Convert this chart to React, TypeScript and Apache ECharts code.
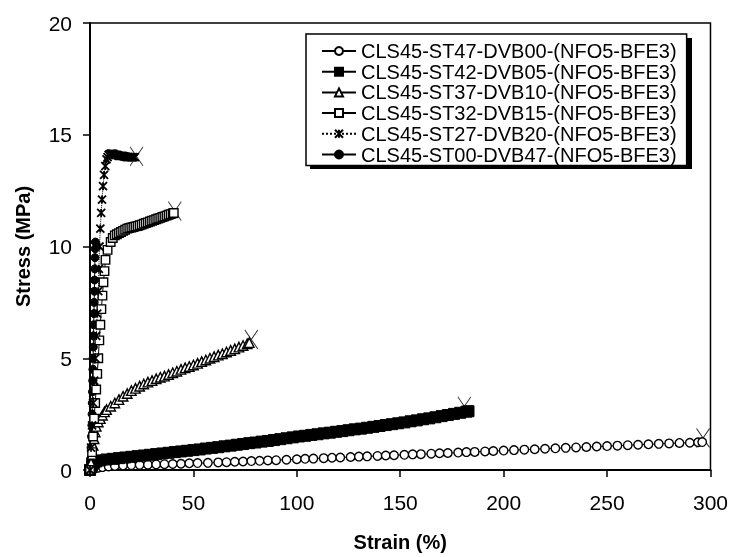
import React, { useEffect, useRef } from "react";
import * as echarts from "echarts";

const seriesNames = [
  "CLS45-ST47-DVB00-(NFO5-BFE3)",
  "CLS45-ST42-DVB05-(NFO5-BFE3)",
  "CLS45-ST37-DVB10-(NFO5-BFE3)",
  "CLS45-ST32-DVB15-(NFO5-BFE3)",
  "CLS45-ST27-DVB20-(NFO5-BFE3)",
  "CLS45-ST00-DVB47-(NFO5-BFE3)",
];

// CLS45-ST47-DVB00 (open circles)
const strainA = [0, 2, 4, 6, 9, 12, 16, 20, 24, 28, 32, 36, 40, 44, 48, 52, 57, 62, 66, 70, 74, 78, 82, 86, 90, 95, 100, 104, 108, 113, 117, 121, 126, 130, 134, 139, 143, 147, 152, 156, 160, 165, 169, 173, 178, 182, 186, 191, 195, 200, 205, 210, 215, 220, 225, 230, 235, 240, 245, 250, 255, 260, 265, 270, 275, 280, 285, 290, 294, 296];
const stressA = [0, 0.05, 0.1, 0.13, 0.16, 0.18, 0.2, 0.22, 0.23, 0.24, 0.25, 0.26, 0.27, 0.28, 0.3, 0.31, 0.32, 0.34, 0.35, 0.37, 0.38, 0.4, 0.41, 0.43, 0.44, 0.46, 0.48, 0.5, 0.51, 0.53, 0.55, 0.56, 0.58, 0.6, 0.61, 0.63, 0.65, 0.66, 0.68, 0.7, 0.71, 0.73, 0.75, 0.76, 0.78, 0.8, 0.81, 0.83, 0.85, 0.87, 0.89, 0.91, 0.93, 0.95, 0.97, 0.99, 1.01, 1.03, 1.05, 1.07, 1.09, 1.11, 1.13, 1.15, 1.17, 1.19, 1.21, 1.22, 1.24, 1.25];

// CLS45-ST42-DVB05 (filled squares)
const strainB = [0, 1, 2, 3, 5, 8, 11, 14, 17, 20, 23, 26, 29, 32, 35, 38, 41, 44, 47, 50, 53, 56, 59, 62, 65, 68, 71, 74, 77, 80, 83, 86, 89, 92, 95, 98, 101, 104, 107, 110, 113, 116, 119, 122, 125, 128, 131, 134, 137, 140, 143, 146, 149, 152, 155, 158, 161, 164, 167, 170, 173, 176, 179, 182, 183];
const stressB = [0, 0.2, 0.32, 0.38, 0.43, 0.47, 0.5, 0.53, 0.56, 0.59, 0.62, 0.65, 0.68, 0.71, 0.74, 0.77, 0.8, 0.83, 0.86, 0.89, 0.92, 0.96, 0.99, 1.02, 1.06, 1.09, 1.13, 1.16, 1.2, 1.23, 1.27, 1.3, 1.34, 1.38, 1.42, 1.46, 1.5, 1.53, 1.57, 1.6, 1.64, 1.67, 1.71, 1.74, 1.78, 1.82, 1.85, 1.89, 1.93, 1.97, 2.01, 2.05, 2.09, 2.13, 2.18, 2.22, 2.27, 2.31, 2.36, 2.41, 2.46, 2.51, 2.56, 2.61, 2.63];

// CLS45-ST37-DVB10 (open triangles)
const strainC = [0, 0.5, 1, 1.5, 2, 2.5, 3, 4, 5, 6, 7, 8, 10, 12, 14, 16, 18, 20, 22, 24, 26, 28, 30, 32, 34, 36, 38, 40, 42, 44, 46, 48, 50, 52, 54, 56, 58, 60, 62, 64, 66, 68, 70, 72, 74, 76, 77];
const stressC = [0, 0.3, 0.7, 1.1, 1.4, 1.7, 1.95, 2.15, 2.3, 2.45, 2.6, 2.7, 2.85, 3.0, 3.15, 3.3, 3.42, 3.55, 3.65, 3.75, 3.85, 3.93, 4.0, 4.08, 4.15, 4.2, 4.27, 4.35, 4.42, 4.5, 4.57, 4.63, 4.7, 4.77, 4.85, 4.92, 5.0, 5.07, 5.14, 5.2, 5.28, 5.35, 5.42, 5.5, 5.57, 5.65, 5.7];

// CLS45-ST32-DVB15 (open squares)
const strainD = [0, 1, 1.5, 2, 2.5, 3, 3.5, 4, 4.5, 5, 5.5, 6, 6.5, 7, 7.5, 8.5, 10, 11, 12, 13, 14, 15, 16, 17, 18, 19, 20, 21, 22, 23, 24, 25, 26, 27, 28, 29, 30, 31, 32, 33, 34, 35, 36, 37, 38, 39, 40, 40.5];
const stressD = [0, 0.8, 1.5, 2.3, 3.0, 3.6, 4.3, 5.0, 5.8, 6.5, 7.2, 7.8, 8.4, 8.9, 9.4, 9.85, 10.2, 10.38, 10.5, 10.55, 10.6, 10.65, 10.7, 10.75, 10.8, 10.83, 10.85, 10.87, 10.9, 10.92, 10.95, 10.98, 11.02, 11.05, 11.08, 11.12, 11.15, 11.18, 11.22, 11.25, 11.28, 11.32, 11.35, 11.38, 11.42, 11.45, 11.48, 11.5];

// CLS45-ST27-DVB20 (asterisks)
const strainE = [0, 0.5, 1, 1.5, 2, 2.5, 3, 3.5, 4, 4.3, 4.6, 5, 5.4, 5.8, 6.3, 6.8, 7.4, 8, 8.5, 9, 9.5, 10, 10.5, 11, 11.5, 12, 12.5, 13, 13.5, 14, 14.5, 15, 15.5, 16, 16.5, 17, 17.5, 18, 18.5, 19, 19.5, 20, 20.5, 21, 21.7];
const stressE = [0, 1, 2, 3, 4, 5, 6, 7, 8, 9, 10, 10.8, 11.5, 12.1, 12.7, 13.2, 13.6, 13.9, 14.0, 14.1, 14.13, 14.15, 14.15, 14.15, 14.13, 14.1, 14.1, 14.1, 14.08, 14.06, 14.05, 14.05, 14.05, 14.04, 14.03, 14.02, 14.01, 14.0, 14.0, 14.0, 14.0, 13.99, 13.99, 14.0, 14.0];

// CLS45-ST00-DVB47 (filled circles)
const strainF = [0, 0.3, 0.5, 0.7, 0.9, 1.0, 1.1, 1.2, 1.3, 1.4, 1.5, 1.6, 1.7, 1.8, 1.9, 2.0, 2.1, 2.2, 2.3, 2.4, 2.5, 2.6];
const stressF = [0, 0.5, 1, 1.5, 2, 2.5, 3, 3.5, 4, 4.5, 5, 5.5, 6, 6.5, 7, 7.5, 8, 8.5, 9, 9.5, 9.9, 10.2];

// failure (break) points
const breakStrain = [296.4, 181, 78, 41, 22.5];
const breakStress = [1.43, 2.85, 5.84, 11.58, 14.03];

const xTicks = { min: 0, max: 300, interval: 50 };
const yTicks = { min: 0, max: 20, interval: 5 };

const zip = (xs: number[], ys: number[]) => xs.map((x, i) => [x, ys[i]]);

const FONT = "'Liberation Sans', Arial, Helvetica, sans-serif";

export default function App() {
  const ref = useRef<HTMLDivElement>(null);
  useEffect(() => {
    if (!ref.current) return;
    const chart = echarts.init(ref.current, undefined, { renderer: "svg" });
    const line = (type: string = "solid") => ({ color: "#000", width: 1, type });
    const common = {
      type: "line",
      showAllSymbol: true,
      silent: true,
      emphasis: { disabled: true },
    };
    chart.setOption({
      animation: false,
      textStyle: { fontFamily: FONT, color: "#000" },
      grid: {
        left: 90,
        right: 20,
        top: 23,
        bottom: 85,
        show: true,
        borderColor: "#000",
        borderWidth: 1.5,
      },
      graphic: [
        {
          type: "rect",
          left: 310,
          top: 38,
          shape: { width: 382, height: 131 },
          style: { fill: "#000" },
          z: 1,
        },
      ],
      legend: {
        data: seriesNames,
        orient: "vertical",
        left: 306,
        top: 34,
        align: "left",
        itemWidth: 34,
        itemHeight: 10,
        itemGap: 0.7,
        padding: [7, 10, 1, 15],
        backgroundColor: "#fff",
        borderColor: "#000",
        borderWidth: 1.5,
        z: 5,
        textStyle: { fontSize: 20, lineHeight: 20, color: "#000", fontFamily: FONT },
        selectedMode: false,
      },
      xAxis: {
        type: "value",
        min: xTicks.min,
        max: xTicks.max,
        interval: xTicks.interval,
        name: "Strain (%)",
        nameLocation: "middle",
        nameGap: 62,
        nameTextStyle: { fontSize: 20, fontWeight: "bold", color: "#000", fontFamily: FONT },
        axisLine: { lineStyle: { color: "#000", width: 2 } },
        axisTick: { show: true, inside: false, length: 7, lineStyle: { color: "#000", width: 1.5 } },
        axisLabel: { fontSize: 21, color: "#000", margin: 22, fontFamily: FONT },
        splitLine: { show: false },
      },
      yAxis: {
        type: "value",
        min: yTicks.min,
        max: yTicks.max,
        interval: yTicks.interval,
        name: "Stress (MPa)",
        nameLocation: "middle",
        nameGap: 57,
        nameTextStyle: { fontSize: 20, fontWeight: "bold", color: "#000", fontFamily: FONT },
        axisLine: { lineStyle: { color: "#000", width: 2 } },
        axisTick: { show: true, inside: false, length: 7, lineStyle: { color: "#000", width: 1.5 } },
        axisLabel: { fontSize: 21, color: "#000", margin: 18, fontFamily: FONT },
        splitLine: { show: false },
      },
      series: [
        {
          name: "break",
          type: "scatter",
          silent: true,
          data: zip(breakStrain, breakStress),
          symbol: "path://M0,0L10,10M10,0L0,10",
          symbolSize: [13, 19],
          itemStyle: { color: "transparent", borderColor: "#000", borderWidth: 1 },
          z: 1,
        },
        {
          ...common,
          name: seriesNames[5],
          data: zip(strainF, stressF),
          symbol: "circle",
          symbolSize: 8,
          itemStyle: { color: "#000", borderColor: "#000", borderWidth: 1 },
          lineStyle: line(),
          z: 2,
        },
        {
          ...common,
          name: seriesNames[0],
          data: zip(strainA, stressA),
          symbol: "circle",
          symbolSize: 8.5,
          itemStyle: { color: "#fff", borderColor: "#000", borderWidth: 1.4 },
          lineStyle: line(),
          z: 2,
        },
        {
          ...common,
          name: seriesNames[1],
          data: zip(strainB, stressB),
          symbol: "rect",
          symbolSize: 11,
          itemStyle: { color: "#000", borderColor: "#000", borderWidth: 1 },
          lineStyle: line(),
          z: 2,
        },
        {
          ...common,
          name: seriesNames[2],
          data: zip(strainC, stressC),
          symbol: "triangle",
          symbolSize: 9.5,
          itemStyle: { color: "#fff", borderColor: "#000", borderWidth: 1.4 },
          lineStyle: line(),
          z: 2,
        },
        {
          ...common,
          name: seriesNames[3],
          data: zip(strainD, stressD),
          symbol: "rect",
          symbolSize: 8.5,
          itemStyle: { color: "#fff", borderColor: "#000", borderWidth: 1.4 },
          lineStyle: line(),
          z: 2,
        },
        {
          ...common,
          name: seriesNames[4],
          data: zip(strainE, stressE),
          symbol: "path://M0,0L10,10M10,0L0,10M5,0L5,10",
          symbolSize: 8,
          itemStyle: { color: "transparent", borderColor: "#000", borderWidth: 1.8 },
          lineStyle: line("dotted"),
          z: 2,
        },
      ],
    });
    return () => chart.dispose();
  }, []);
  return (
    <div
      ref={ref}
      style={{ position: "fixed", left: 0, top: 0, width: 731, height: 557 }}
    />
  );
}
